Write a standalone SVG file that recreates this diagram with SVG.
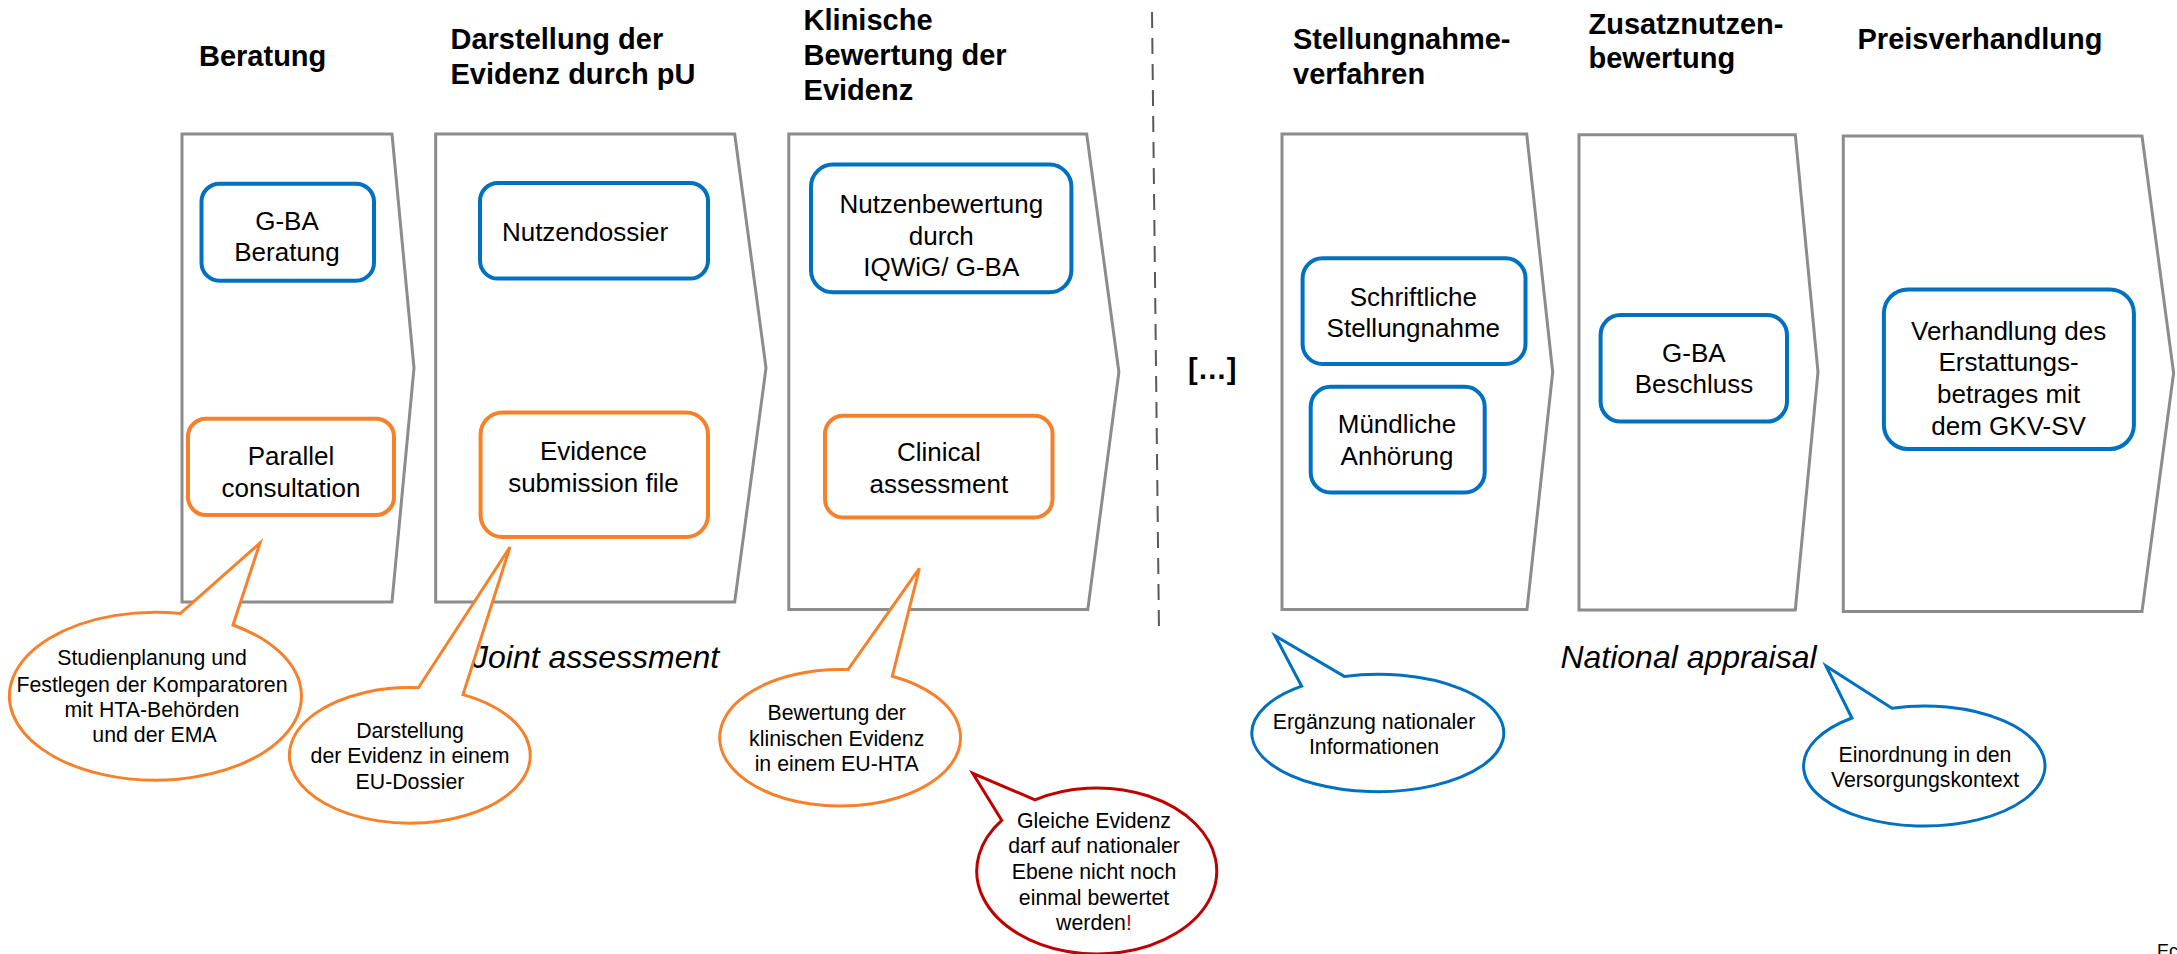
<svg xmlns="http://www.w3.org/2000/svg" width="2177" height="954" viewBox="0 0 2177 954">
<style>
.hd{font-family:"Liberation Sans",Arial,sans-serif;font-weight:bold;font-size:29px;fill:#000}
.bx{font-family:"Liberation Sans",Arial,sans-serif;font-size:26px;fill:#000;text-anchor:middle}
.bt{font-family:"Liberation Sans",Arial,sans-serif;font-size:21.3px;fill:#000;text-anchor:middle}
.it{font-family:"Liberation Sans",Arial,sans-serif;font-style:italic;font-size:32px;fill:#000}
.panel{fill:#fff;stroke:#8c8c8c;stroke-width:3}
.blue{fill:#fff;stroke:#0070c0;stroke-width:4}
.orange{fill:#fff;stroke:#f7802b;stroke-width:4}
.bo{fill:#fff;stroke:#f7802b;stroke-width:3}
.bb{fill:#fff;stroke:#0070c0;stroke-width:3}
.br{fill:#fff;stroke:#c00000;stroke-width:3}
</style>
<rect width="2177" height="954" fill="#fff"/>

<g id="headers">
<text class="hd" x="199" y="65.5">Beratung</text>
<text class="hd" x="450.5" y="49">Darstellung der</text>
<text class="hd" x="450.5" y="84">Evidenz durch pU</text>
<text class="hd" x="803.6" y="30">Klinische</text>
<text class="hd" x="803.6" y="65">Bewertung der</text>
<text class="hd" x="803.6" y="99.5">Evidenz</text>
<text class="hd" x="1293" y="49">Stellungnahme-</text>
<text class="hd" x="1293" y="84">verfahren</text>
<text class="hd" x="1588.5" y="34">Zusatznutzen-</text>
<text class="hd" x="1588.5" y="68.4">bewertung</text>
<text class="hd" x="1857.5" y="49">Preisverhandlung</text>
</g>

<g id="panels">
<polygon id="panel-beratung" class="panel" points="182,134 392,134 414,368 392,602 182,602"/>
<polygon id="panel-darstellung" class="panel" points="435.7,134 734.7,134 766,368 734.7,602 435.7,602"/>
<polygon id="panel-klinisch" class="panel" points="788.8,134 1086.7,134 1118.9,372 1087.8,609.5 788.8,609.5"/>
<polygon id="panel-stellungnahme" class="panel" points="1282,134 1526.7,134 1552.7,372 1527,609.5 1282,609.5"/>
<polygon id="panel-zusatz" class="panel" points="1579,134.7 1795.3,134.7 1818,372 1795.3,610 1579,610"/>
<polygon id="panel-preis" class="panel" points="1843.3,136 2142,136 2173.6,373 2142,611.5 1843.3,611.5"/>
</g>

<g id="divider">
<line x1="1152" y1="12" x2="1159" y2="632" stroke="#595959" stroke-width="2" stroke-dasharray="16 10"/>
<text class="hd" x="1188" y="379">[…]</text>
</g>

<g id="node-gba-beratung">
<rect class="blue" x="201.5" y="183.7" width="172.5" height="97" rx="18"/>
<text class="bx" x="287" y="230">G-BA</text>
<text class="bx" x="287" y="261">Beratung</text>
</g>
<g id="node-parallel">
<rect class="orange" x="188" y="418.7" width="206" height="96.3" rx="18"/>
<text class="bx" x="291" y="465">Parallel</text>
<text class="bx" x="291" y="496.7">consultation</text>
</g>
<g id="node-nutzendossier">
<rect class="blue" x="480" y="183" width="228" height="95.6" rx="18"/>
<text class="bx" x="585" y="240.5">Nutzendossier</text>
</g>
<g id="node-evidence">
<rect class="orange" x="480.6" y="412.5" width="227.4" height="124.5" rx="22"/>
<text class="bx" x="593.4" y="460">Evidence</text>
<text class="bx" x="593.4" y="491.7">submission file</text>
</g>
<g id="node-nutzenbewertung">
<rect class="blue" x="811" y="164.6" width="260.4" height="127.7" rx="22"/>
<text class="bx" x="941.3" y="212.7">Nutzenbewertung</text>
<text class="bx" x="941.3" y="244.6">durch</text>
<text class="bx" x="941.3" y="275.7">IQWiG/ G-BA</text>
</g>
<g id="node-clinical">
<rect class="orange" x="825" y="415.8" width="227.5" height="101.6" rx="18"/>
<text class="bx" x="938.8" y="461.4">Clinical</text>
<text class="bx" x="938.8" y="493.4">assessment</text>
</g>
<g id="node-schriftlich">
<rect class="blue" x="1302.6" y="258.3" width="222.9" height="105.7" rx="20"/>
<text class="bx" x="1413.3" y="305.6">Schriftliche</text>
<text class="bx" x="1413.3" y="336.6">Stellungnahme</text>
</g>
<g id="node-muendlich">
<rect class="blue" x="1310.7" y="386.8" width="174" height="105.7" rx="20"/>
<text class="bx" x="1397" y="433">Mündliche</text>
<text class="bx" x="1397" y="465">Anhörung</text>
</g>
<g id="node-beschluss">
<rect class="blue" x="1600.6" y="315" width="186.4" height="106.6" rx="20"/>
<text class="bx" x="1693.9" y="362">G-BA</text>
<text class="bx" x="1693.9" y="393">Beschluss</text>
</g>
<g id="node-verhandlung">
<rect class="blue" x="1883.9" y="289.4" width="250" height="159.6" rx="24"/>
<text class="bx" x="2008.6" y="340">Verhandlung des</text>
<text class="bx" x="2008.6" y="371">Erstattungs-</text>
<text class="bx" x="2008.6" y="403">betrages mit</text>
<text class="bx" x="2008.6" y="434.5">dem GKV-SV</text>
</g>

<g id="labels">
<text class="it" x="472" y="668.3">Joint assessment</text>
<text class="it" x="1560.4" y="668.3">National appraisal</text>
</g>

<g id="bubble-studienplanung">
<path class="bo" d="M180.4,613.4 L260,543 L233,625 A146,84 0 1 1 180.4,613.4 Z"/>
<text class="bt" x="152" y="665">Studienplanung und</text>
<text class="bt" x="152" y="691.7">Festlegen der Komparatoren</text>
<text class="bt" x="152" y="717.3">mit HTA-Behörden</text>
<text class="bt" x="154.5" y="742.3">und der EMA</text>
</g>
<g id="bubble-darstellung">
<path class="bo" d="M418.4,687.8 L510,547 L463,694.6 A120.4,67.8 0 1 1 418.4,687.8 Z"/>
<text class="bt" x="410" y="738.3">Darstellung</text>
<text class="bt" x="410" y="763.3">der Evidenz in einem</text>
<text class="bt" x="410" y="789">EU-Dossier</text>
</g>
<g id="bubble-bewertung">
<path class="bo" d="M848,669.6 L919.4,568.3 L892.3,676.2 A120.4,68.3 0 1 1 848,669.6 Z"/>
<text class="bt" x="836.7" y="720">Bewertung der</text>
<text class="bt" x="836.7" y="745.7">klinischen Evidenz</text>
<text class="bt" x="836.7" y="771">in einem EU-HTA</text>
</g>
<g id="bubble-gleiche-evidenz">
<path class="br" d="M1001.7,820.3 L972.7,773.3 L1035,799.8 A120,83 0 1 1 1001.7,820.3 Z"/>
<text class="bt" x="1094" y="828.3">Gleiche Evidenz</text>
<text class="bt" x="1094" y="853.3">darf auf nationaler</text>
<text class="bt" x="1094" y="879.3">Ebene nicht noch</text>
<text class="bt" x="1094" y="905">einmal bewertet</text>
<text class="bt" x="1094" y="930">werden<tspan fill="#c00000">!</tspan></text>
</g>
<g id="bubble-ergaenzung">
<path class="bb" d="M1301.7,686.2 L1275,635.7 L1344.3,676.4 A126,58.7 0 1 1 1301.7,686.2 Z"/>
<text class="bt" x="1374" y="729.3">Ergänzung nationaler</text>
<text class="bt" x="1374" y="754.3">Informationen</text>
</g>
<g id="bubble-einordnung">
<path class="bb" d="M1851.9,718 L1826,666 L1892,708.2 A120.7,60 0 1 1 1851.9,718 Z"/>
<text class="bt" x="1925" y="761.7">Einordnung in den</text>
<text class="bt" x="1925" y="787.3">Versorgungskontext</text>
</g>

<text x="2157" y="957" font-family="Liberation Sans, Arial, sans-serif" font-size="18" fill="#000">Ec</text>
</svg>
